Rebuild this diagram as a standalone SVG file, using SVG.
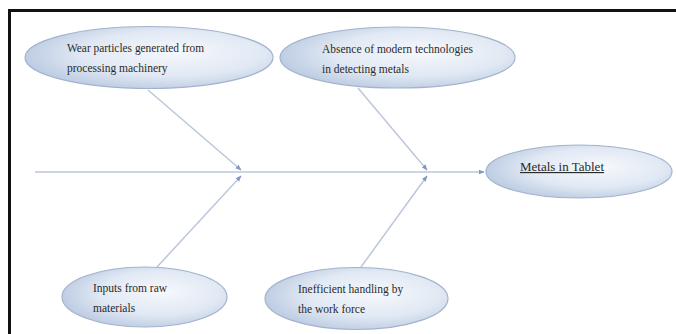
<svg xmlns="http://www.w3.org/2000/svg" width="676" height="334" viewBox="0 0 676 334">
<defs>
<radialGradient id="g" cx="0.58" cy="0.45" r="0.6" fx="0.62" fy="0.4">
<stop offset="0" stop-color="#f6f8fc"/>
<stop offset="0.6" stop-color="#e1e9f4"/>
<stop offset="1" stop-color="#bccbe2"/>
</radialGradient>
<marker id="ah" viewBox="0 0 10 10" refX="9" refY="5" markerWidth="6" markerHeight="6" orient="auto" markerUnits="userSpaceOnUse">
<path d="M0,1 L10,5 L0,9 z" fill="#7f98c4"/>
</marker>
</defs>
<style>
.node ellipse{fill:url(#g);stroke:#a3b3cc;stroke-width:1.2}
.node text{font-family:"Liberation Serif","Times New Roman",serif;font-size:11.5px;fill:#2a2a2a}
.conn line{stroke:#bcc7dc;stroke-width:1.5;fill:none}
.frame{stroke:#111;stroke-width:3;fill:none}
</style>
<rect width="676" height="334" fill="#fff"/>
<path class="frame" d="M9.5,334 V10.5 H676"/>
<g id="connectors" class="conn">
<line x1="35" y1="172" x2="484" y2="172" marker-end="url(#ah)"/>
<line x1="148" y1="90" x2="241" y2="170" marker-end="url(#ah)"/>
<line x1="157" y1="267" x2="241" y2="176" marker-end="url(#ah)"/>
<line x1="358" y1="88" x2="427" y2="170" marker-end="url(#ah)"/>
<line x1="361" y1="267" x2="427" y2="176" marker-end="url(#ah)"/>
</g>
<g id="wear" class="node">
<ellipse cx="149" cy="57.5" rx="124" ry="31"/>
<text x="67" y="52" textLength="137" lengthAdjust="spacingAndGlyphs">Wear particles generated from</text>
<text x="67" y="72">processing machinery</text>
</g>
<g id="absence" class="node">
<ellipse cx="397.5" cy="57.5" rx="117.5" ry="30.5"/>
<text x="322" y="53" textLength="151" lengthAdjust="spacingAndGlyphs">Absence of modern technologies</text>
<text x="322" y="73">in detecting metals</text>
</g>
<g id="metals" class="node">
<ellipse cx="579" cy="171.5" rx="93" ry="26.5"/>
<text x="520" y="171" text-decoration="underline" textLength="84" lengthAdjust="spacingAndGlyphs">Metals in Tablet</text>
</g>
<g id="inputs" class="node">
<ellipse cx="144.5" cy="297" rx="82.5" ry="30"/>
<text x="93" y="292">Inputs from raw</text>
<text x="93" y="312">materials</text>
</g>
<g id="handling" class="node">
<ellipse cx="356.5" cy="298.5" rx="91.5" ry="31"/>
<text x="298" y="293">Inefficient handling by</text>
<text x="298" y="313">the work force</text>
</g>
</svg>
